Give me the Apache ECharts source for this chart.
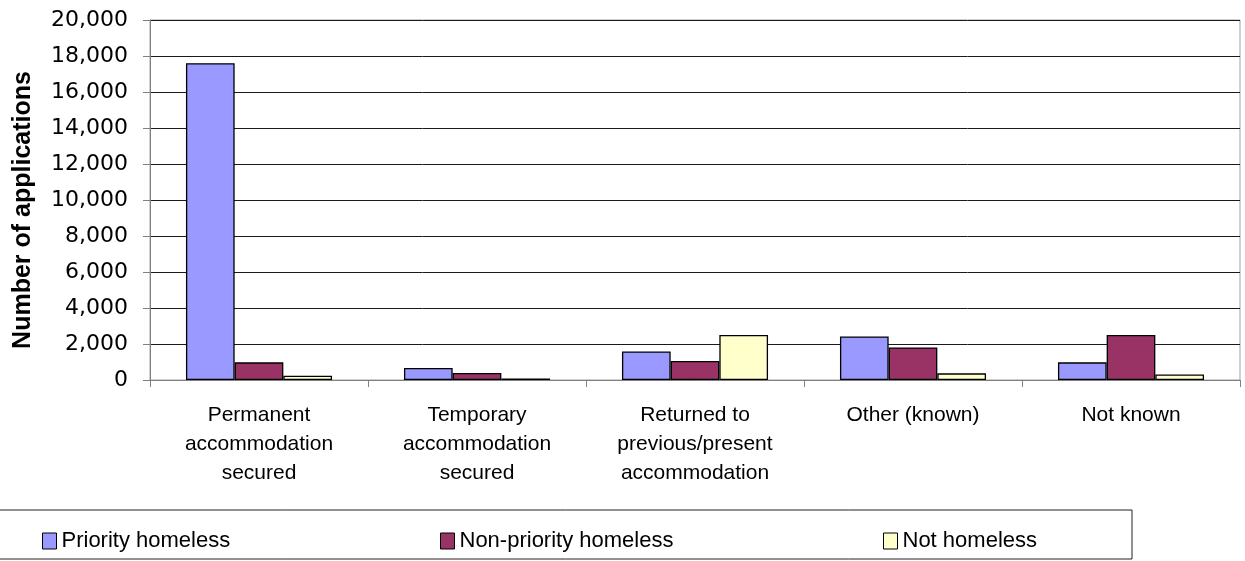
<!DOCTYPE html>
<html>
<head>
<meta charset="utf-8">
<script src="https://cdn.jsdelivr.net/npm/echarts@6/dist/echarts.min.js"></script>
<style>
  html, body { margin: 0; padding: 0; background: #ffffff; }
  #chart { width: 1245px; height: 561px; }
</style>
</head>
<body>
<div id="chart"></div>
<script>
const categories = [
  'Permanent\naccommodation\nsecured',
  'Temporary\naccommodation\nsecured',
  'Returned to\nprevious/present\naccommodation',
  'Other (known)',
  'Not known'
]
const priorityHomeless = [17600, 670, 1590, 2420, 980]
const nonPriorityHomeless = [980, 390, 1060, 1810, 2500]
const notHomeless = [240, 90, 2500, 370, 310]

const seriesNames = ['Priority homeless', 'Non-priority homeless', 'Not homeless']
const colors = ['#9999ff', '#993366', '#ffffcc']
const yTitle = 'Number of applications'

const chart = echarts.init(document.getElementById('chart'))

const legendAt = (name, left) => ({
  data: [name],
  left: left,
  top: 525,
  icon: 'rect',
  itemWidth: 14,
  itemHeight: 16,
  itemStyle: { borderColor: '#000', borderWidth: 1 },
  textStyle: { fontFamily: 'Liberation Sans', fontSize: 22, color: '#000' }
})

const barSeries = (name, data, i) => ({
  name: name,
  type: 'bar',
  barGap: '0%',
  barCategoryGap: '33%',
  itemStyle: { color: colors[i], borderColor: '#000', borderWidth: 1.3 },
  data: data
})

const option = {
  backgroundColor: '#ffffff',
  animation: false,
  color: colors,
  grid: {
    left: 150,
    right: 5,
    top: 20,
    bottom: 181,
    show: true,
    borderColor: '#a0a0a0',
    borderWidth: 1
  },
  legend: [
    legendAt(seriesNames[0], 37),
    legendAt(seriesNames[1], 435),
    legendAt(seriesNames[2], 878)
  ],
  graphic: [
    {
      type: 'rect',
      shape: { x: -1, y: 510, width: 1133, height: 49 },
      style: { fill: 'none', stroke: '#222', lineWidth: 1 }
    },
    {
      type: 'text',
      x: 23,
      y: 210,
      rotation: Math.PI / 2,
      style: {
        text: yTitle,
        fontFamily: 'Liberation Sans',
        fontSize: 25,
        fontWeight: 'bold',
        fill: '#000',
        align: 'center',
        verticalAlign: 'middle'
      }
    }
  ],
  xAxis: {
    type: 'category',
    data: categories,
    axisLine: { lineStyle: { color: '#808080' } },
    axisTick: { show: true, length: 7, lineStyle: { color: '#808080' } },
    axisLabel: {
      interval: 0,
      margin: 21,
      fontFamily: 'Liberation Sans',
      fontSize: 21,
      lineHeight: 29,
      color: '#000'
    }
  },
  yAxis: {
    type: 'value',
    min: 0,
    max: 20000,
    interval: 2000,
    axisLine: { show: true, lineStyle: { color: '#808080' } },
    axisTick: { show: true, length: 7, lineStyle: { color: '#808080' } },
    axisLabel: {
      margin: 22,
      fontFamily: 'DejaVu Sans',
      fontSize: 22,
      color: '#000',
      formatter: v => v.toLocaleString('en-US')
    },
    splitLine: { lineStyle: { color: '#1a1a1a', width: 1 } }
  },
  series: [
    barSeries(seriesNames[0], priorityHomeless, 0),
    barSeries(seriesNames[1], nonPriorityHomeless, 1),
    barSeries(seriesNames[2], notHomeless, 2)
  ]
}

chart.setOption(option)
</script>
</body>
</html>
